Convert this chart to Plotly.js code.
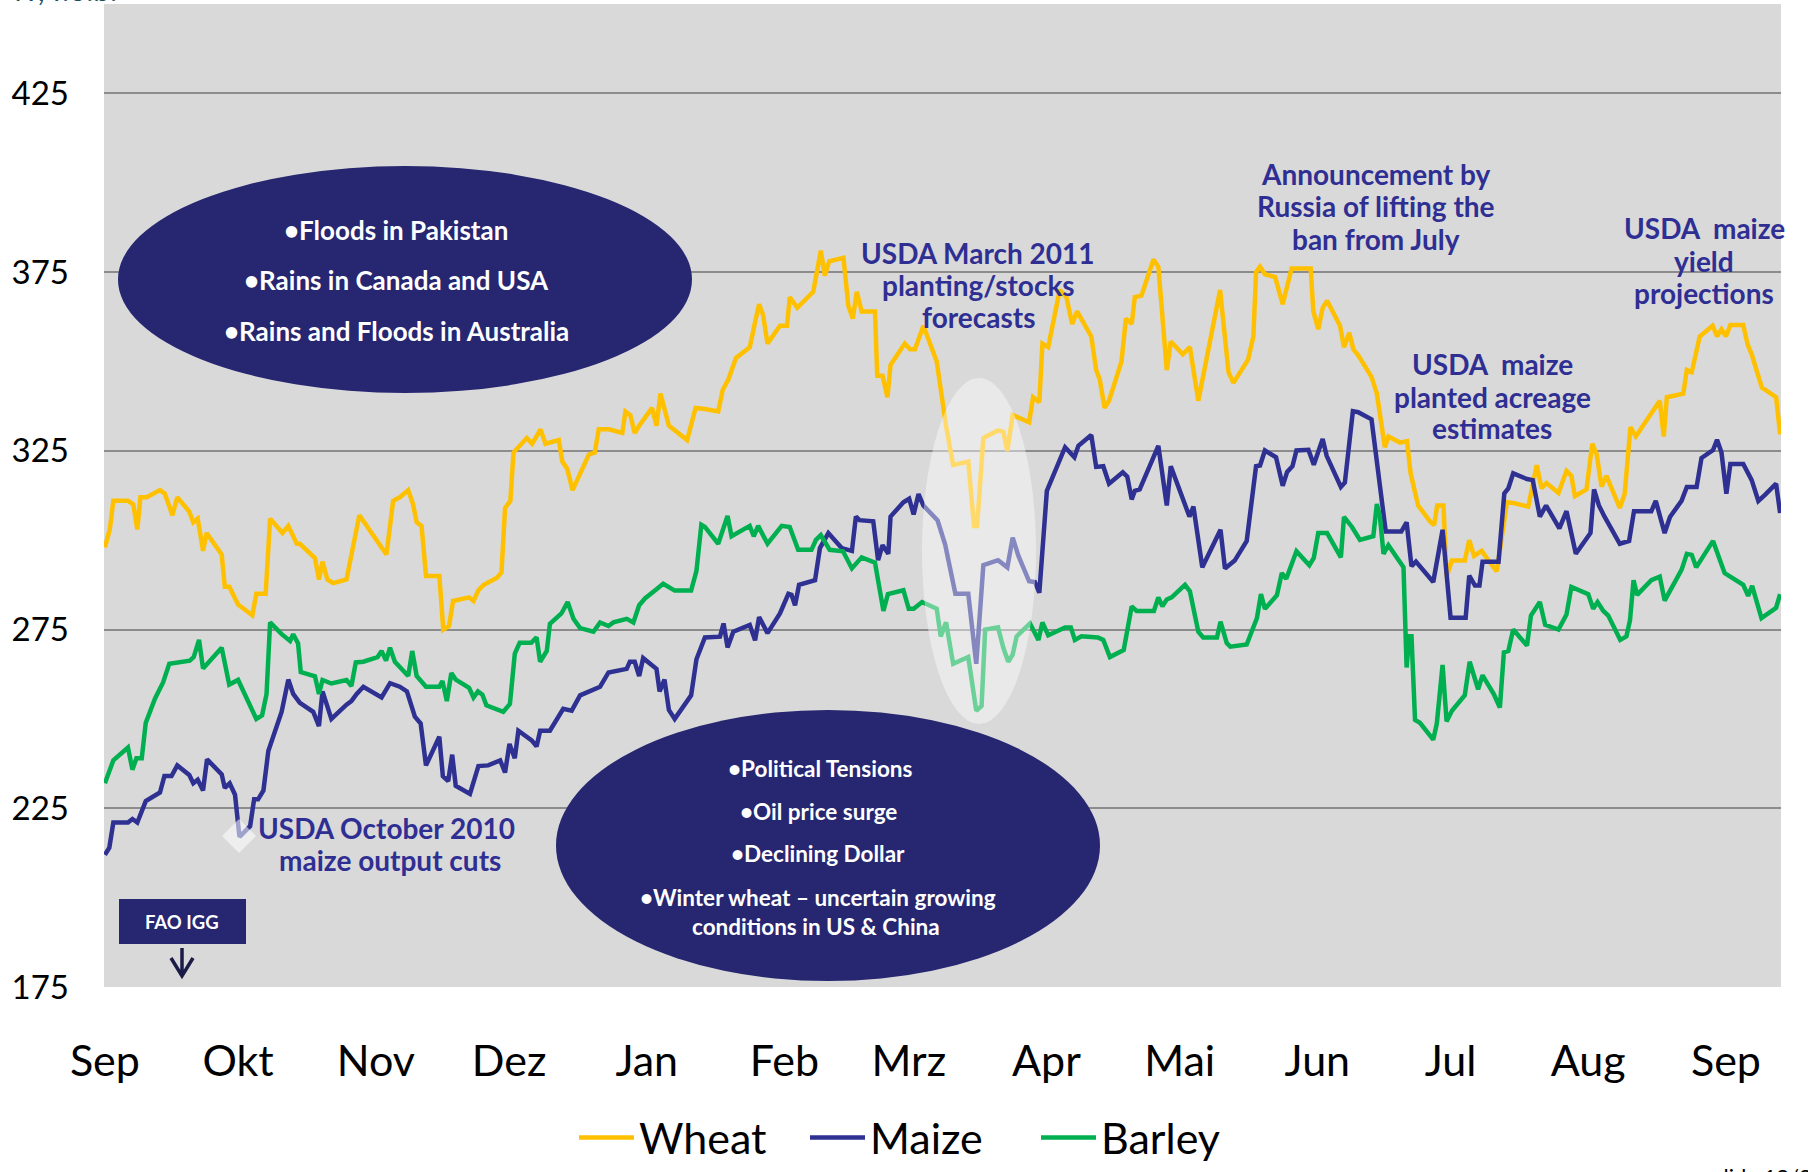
<!DOCTYPE html>
<html><head><meta charset="utf-8">
<script src="https://cdn.plot.ly/plotly-3.0.1.min.js"></script>
<style>html,body{margin:0;padding:0;background:#fff;overflow:hidden}#chart{width:1808px;height:1172px}</style>
</head><body><div id="chart"></div>
<script>
// x = days since 1 Sep 2010
const monthDays = [0,30,61,91,122,153,181,212,242,273,303,334,365];
const monthLabels = ['Sep','Okt','Nov','Dez','Jan','Feb','Mrz','Apr','Mai','Jun','Jul','Aug','Sep'];
const yTicks = [175,225,275,325,375,425];
const seriesNames = ['Wheat','Maize','Barley'];

const wheatSeries = [[0,298],[1.1,303],[1.9,311],[5.2,311],[6.4,310],[7.3,303],[8,312],[9.4,312],[12.4,314],[13.5,313],[15.2,307],[16.3,312],[19,308],[19.9,305],[20.9,306],[22.1,297],[22.9,302],[26.3,296],[27,287],[28,287],[30,282],[33.2,279],[34.1,285],[36.2,285],[37.2,306],[40,302],[41.3,304],[43.2,299],[43.9,299],[47.3,295],[48.2,289],[49,294],[50.1,289],[51.4,288],[54.4,289],[57.3,307],[63.4,296],[64.9,311],[66.4,312],[68.3,314],[69.4,310],[70.2,305],[71.3,304],[72.3,290],[75.3,290],[76.2,275],[77.5,276],[78.4,283],[82,284],[83,283],[84.1,286],[85.3,287.5],[88.3,289.5],[89.3,291],[90.1,309],[91.3,311],[92,324.5],[95,328.6],[96.2,327],[98.1,331],[99.2,327],[102.2,328],[103,322],[104.1,320],[105.3,314],[106.4,317],[109,324],[110.3,324.5],[111.2,331],[113.5,331],[116.5,330],[117.2,336],[118.3,335],[119.3,330],[120.3,332],[123.2,337],[124.2,332],[125.1,341],[127,332],[131.1,328],[133,337],[135.1,336.7],[138.1,336],[139.1,342],[140.4,345],[142.1,351],[145.2,354],[146.4,361],[147.3,366],[148.2,363],[149.2,355],[152,360],[153.6,360],[154.2,368],[155.9,365],[159.5,369.5],[161.2,381],[162.1,374],[163.1,378],[166.3,379],[167.4,365.6],[168.4,362],[169.3,369.5],[170.4,364],[173.4,364],[173.9,346],[175.1,346],[176.2,340],[176.9,349],[180.1,355],[181.3,353.4],[182.4,353.4],[184.3,360],[187.3,350],[189.4,332],[191,321],[194.4,322],[195.7,304],[196.4,304],[197.8,328.6],[201.1,330.7],[202.3,330.3],[203.2,325],[204.4,335],[208.1,333],[209,340],[210.4,338.6],[211.1,355],[212.4,354],[215,370],[216.5,368],[217.8,360.5],[218.9,364],[222.1,357],[223.2,347.6],[224,345],[225.1,337],[226.1,339],[228.9,350],[229.9,362],[231.2,360.5],[231.9,368],[233.4,368.4],[236.1,378.5],[237.2,376.5],[239.1,347.6],[240,355.6],[242.7,352],[244.3,354],[246.2,339],[247.3,346],[249.6,360],[251.1,370],[253,347],[254.1,344],[257.4,350.5],[258.6,357],[259.2,375],[260.1,376.5],[261.2,374.4],[263.5,373.6],[265.2,366],[267.2,376],[271.5,376],[272.1,364],[273.2,359],[274.2,365],[275.2,367],[278.1,360],[279,354],[280.2,358],[281.1,353.4],[282.2,351.7],[285.2,345.7],[286.4,341],[288.2,326],[289,329],[291.6,327.3],[293.2,327.7],[294,318.7],[295.7,309.7],[298.4,305.2],[299.3,304.2],[300,309.7],[301.4,309.7],[302.1,289.8],[303.3,294.3],[306.2,294.3],[307.2,300],[308.3,295.6],[310,297],[311.9,293.7],[313.4,291.3],[315.7,310.6],[317.1,310.4],[320.5,309.4],[322.4,321],[323.5,314.5],[324.6,316],[327.3,313.2],[329.1,319.4],[330.2,318],[331,312.3],[333.6,314.2],[334.9,327],[335.9,324],[337,315],[338.1,318],[341.1,309],[342.2,313],[343.5,331.6],[344.7,329],[350.1,339],[351,329],[351.7,340],[355.4,341],[356.2,347.6],[357.3,347],[359.1,357],[362,360],[363,357],[364,359],[365,357],[366,360.2],[368.9,360.2],[369.9,354.7],[370.8,352],[373.1,342.7],[376.3,340],[377.2,329.6]];

const maizeSeries = [[0,212],[1,214],[1.9,221],[5.2,221],[6.2,222],[7.3,221],[9.2,227],[12.4,229.4],[13.4,234],[15,234],[16.3,237],[19,234.3],[19.9,232],[20.9,233],[22.1,230],[23,238.7],[26.3,234.5],[27,230.7],[28.1,232],[29.3,228.8],[30.3,217],[32.7,220],[33.6,227.5],[34.5,227.5],[35.7,230],[36.8,241],[39.8,252],[41.3,261],[42.4,257],[43.9,254.5],[46.9,252],[48.2,248],[49,257.7],[51,250],[54.4,254],[55.5,255],[56.7,257],[58.2,259],[62.3,256],[64.2,260],[66.4,259],[68,257.7],[69.8,250.6],[71.1,248.7],[72.3,237],[75.3,245],[76.1,234],[77.3,232.6],[78.2,240],[79,231.3],[82.2,229],[84.1,236.8],[86.3,237],[89,238.4],[90.1,235],[91.1,243],[92.3,239],[93.1,246.7],[96.1,244],[97.2,242.3],[98,246.7],[100.2,246.7],[103.2,252.8],[105.1,252.3],[107,256.6],[110,258],[111.5,259],[113.4,263],[117.5,264],[118.2,266],[119.3,266],[120.3,262],[121.2,267],[124.2,264],[124.9,257.7],[126,261],[127,252.5],[128.3,250],[132,256.6],[133.2,266.7],[135.1,272.8],[138.5,273],[139.3,276.7],[140.2,270],[141.5,274.4],[145.2,276.3],[146.4,272],[147.3,278.5],[149.2,274],[152,279.5],[153.9,285],[154.6,284.7],[155.4,281.8],[156.3,287.5],[159.9,288.8],[161,297.8],[162.9,302],[165.9,297.8],[168.2,297],[169.1,306.6],[169.9,305.6],[173,305.3],[174.1,294.4],[175.1,298.6],[176.4,296.2],[176.9,306.6],[179.8,310.6],[181.1,311.6],[182.1,307.2],[183.2,312.9],[184.3,309.7],[187.5,305.5],[189.2,298.8],[191.5,285],[194.4,285],[196.2,265.4],[197.8,293],[201.1,294.4],[203.2,292.4],[204.4,300.7],[205.7,295.6],[208.1,288.5],[209.4,288.3],[210.4,285.3],[212.1,313.8],[216.2,326],[218.3,323.2],[219.2,326.4],[222.1,329.4],[223.2,320.5],[224.8,320.7],[226.1,315.8],[229.2,319],[230.2,317.8],[231.2,311.4],[231.9,313.8],[233,314.2],[237.2,326.4],[239.1,309.7],[240,320.7],[243.2,310.4],[244.2,306.6],[245.1,309.4],[247.1,292.4],[251.2,302.9],[252.2,292.1],[254.4,294.3],[257.1,299.8],[259.2,320.7],[260.1,320.9],[261.2,325.1],[263.7,323.2],[265.2,315.2],[266.2,319.1],[267.4,320.7],[268.3,325.1],[271,325.3],[272.2,321.1],[274.2,328.3],[275.1,323.6],[278.3,314.9],[279.2,316.1],[281,336.1],[282.2,335.8],[285.2,333.8],[286.7,319.4],[288.4,302.4],[291.9,302.4],[293.1,305],[294.2,292.7],[295.2,294],[299.1,288.3],[301.2,302.9],[303,278.3],[306.4,278.3],[307.2,290.1],[308.5,287.3],[309.5,287.3],[310.2,294],[313.8,294],[315.1,313.1],[316,314.5],[317.1,318.7],[320.2,317.1],[321.5,316.8],[323.1,306.6],[324.5,309.7],[327.5,303.3],[329.1,308.1],[331.2,296.2],[334.5,302],[335.3,314.2],[336.4,309.7],[337.7,306.5],[341.1,299],[343.2,299.8],[344.3,308.1],[348.2,308.1],[349.2,311],[351.2,302],[352.4,306.5],[355,311],[356.2,314.9],[358.4,314.9],[359.5,323],[362.1,325.2],[363,328.1],[364,324.5],[365.1,313],[366,321.3],[368.9,321.3],[370.8,316.8],[372.3,311],[373.8,312.7],[376.3,315.8],[377.2,307.6]];

const barleySeries = [[0,232],[1.9,238.4],[5.2,242],[6.2,235.8],[7.1,239],[8.3,239],[9.2,248.9],[11.3,255.7],[13.1,260.2],[14.5,265.4],[19.1,266.3],[20,267.3],[21.2,272.1],[22.1,264.1],[26.3,269.9],[28,259.6],[30,260.9],[34.1,250],[35.4,251],[36.4,257],[37.2,277],[39.8,273.7],[41.7,271.8],[42.4,273.7],[43.5,271.1],[44.1,263.1],[47.3,261.9],[48.2,257],[49,260.9],[51,259.9],[54.4,260.9],[55.5,259.2],[56.5,265.8],[58.2,266],[61.4,267.3],[62.3,269],[63.3,266.3],[64.2,269.9],[65.3,266],[68.3,262],[69.2,269],[70.2,262],[72.3,259],[75.3,259],[76,260.6],[77,255],[78,262.8],[79,261],[82,258.7],[83,256],[84,257.7],[85,256.8],[85.9,253.8],[89.7,252],[91.2,254.2],[92.3,268.3],[93.4,271.3],[96,271.3],[97.2,272.8],[98,266],[99.5,269],[100.2,276.6],[102.8,279.5],[104.2,282.7],[105.5,278],[107,275.4],[110,274.4],[111.5,277],[113.4,276],[114.5,277],[117.5,278],[119,277],[120.3,281.8],[121.6,283.7],[124.2,286.3],[125.7,287.8],[128.3,285.9],[132,285.9],[133.2,291.4],[134.3,304.3],[135.1,303.7],[138.1,299],[140.2,306.8],[141.1,301.1],[145.2,304],[146.1,301.1],[147.1,304],[149.2,299],[152.4,304],[154.2,303.7],[156.1,297.3],[159.1,297.3],[160.1,300.1],[161.2,301.4],[163.2,297.3],[166.2,296.9],[168.2,292.1],[170.4,295.2],[173.4,293.7],[175.3,280.2],[176.3,284.9],[179.8,286],[181,280.8],[182.1,280.8],[184,282.7],[187.3,280.8],[188.2,273.1],[189.4,277],[191,265.4],[194.4,267.3],[196.2,252.3],[197.4,253.6],[198.2,275],[201.1,275.6],[202.3,269.9],[203.4,266],[204.4,268],[205.3,273.1],[208.3,276.7],[210.2,272.1],[211.1,277],[212.4,273.4],[216.2,275.6],[217.5,275.6],[218.4,272.1],[219.9,273.1],[223.6,272.8],[224.8,272.1],[226.3,267.3],[229.4,269.3],[231.2,281.5],[232.3,280.2],[236.2,280.2],[237.2,284],[238.1,281.5],[239.1,283.4],[240.2,284],[243.2,287.5],[244.3,285.7],[246.2,274.4],[247.3,272.8],[250.4,272.8],[251.2,277.2],[252.6,271.2],[253.4,270.2],[257.1,270.8],[258.2,274.4],[259.4,278.2],[260.3,284.9],[261.2,280.8],[263.9,284.6],[265,290.8],[266,289.2],[268.3,296.9],[271.2,293],[272.2,295],[273.2,302],[275.2,302],[278.3,295.2],[279,306.5],[280.8,303.7],[282.6,300.1],[285.6,301.1],[286.4,310.1],[287.1,306.5],[287.9,296.2],[289,298.6],[292.4,292.4],[293.1,264.4],[293.7,273.1],[294.2,273.1],[295,249.7],[296.1,248.9],[299.1,244.2],[299.9,248.7],[301.2,265.1],[302.1,249.3],[303.3,252.3],[306.2,256.6],[307.3,266],[309.2,258.3],[310.2,262.2],[312.7,257],[314.1,253.2],[315,268.6],[316,269],[317.1,275],[320.2,270.5],[321.1,278.9],[323.1,282.7],[324.3,276.3],[327.3,275],[329.1,279.2],[330.2,286.9],[334,284.9],[335.1,280.8],[336.1,282.7],[337.4,280.2],[338.5,278.9],[341.2,272.1],[342.6,273.1],[343.4,277.6],[344.2,288.8],[345,284.7],[348.2,288.8],[350.1,289.8],[351.2,283.1],[355,291.7],[356.2,296.2],[357.3,295.9],[358.3,292.4],[362.1,299.8],[364.7,290.8],[368.9,287.5],[370,284.4],[370.9,287.2],[373,278.2],[376.3,281.1],[377.2,284.9]];

const colors = ['#FFC000','#2E3192','#00B050'];
const allSeries = [wheatSeries, maizeSeries, barleySeries];

const traces = allSeries.map((s,i)=>({
  type:'scatter', mode:'lines', name:seriesNames[i],
  x:s.map(p=>p[0]), y:s.map(p=>p[1]),
  line:{color:colors[i], width:4.5, shape:'linear'},
  hoverinfo:'skip'
}));

// page-pixel helpers for decorative annotations
const L=104, T=4, W=1677, H=983;
const px = x => (x-L)/W;
const py = y => (T+H-y)/H;

const navy = '#262671';
const txt = '#2F2F93';
const shapes = [
  {type:'circle', xref:'paper', yref:'paper', x0:px(118), x1:px(692), y0:py(393), y1:py(166), fillcolor:navy, line:{width:0}, layer:'above'},
  {type:'circle', xref:'paper', yref:'paper', x0:px(556), x1:px(1100), y0:py(981), y1:py(710), fillcolor:navy, line:{width:0}, layer:'above'},
  {type:'circle', xref:'paper', yref:'paper', x0:px(922), x1:px(1036), y0:py(724), y1:py(378), fillcolor:'rgba(255,255,255,0.42)', line:{width:0}, layer:'above'},
  {type:'path', xref:'paper', yref:'paper', path:`M${px(222)},${py(836)} L${px(239)},${py(819)} L${px(256)},${py(836)} L${px(239)},${py(853)} Z`, fillcolor:'rgba(255,255,255,0.55)', line:{width:0}, layer:'above'},
  {type:'rect', xref:'paper', yref:'paper', x0:px(119), x1:px(246), y0:py(944), y1:py(899), fillcolor:navy, line:{width:0}, layer:'above'},
  {type:'path', xref:'paper', yref:'paper', path:`M${px(182)},${py(948)} L${px(182)},${py(975)} M${px(171)},${py(958)} L${px(182)},${py(976)} L${px(193)},${py(958)}`, line:{color:'#1b1b48', width:3.5}, layer:'above'}
];

function ann(text, x, y, size, color, opts){
  return Object.assign({text:text, xref:'paper', yref:'paper', x:px(x), y:py(y), xanchor:'center', yanchor:'middle', showarrow:false, font:{family:'Lato, sans-serif', size:size, color:color, weight:700}}, opts||{});
}
const annotations = [
  ann('•Floods in Pakistan', 396, 230, 26, '#fff'),
  ann('•Rains in Canada and USA', 396, 280, 26, '#fff'),
  ann('•Rains and Floods in Australia', 396, 331, 26, '#fff'),
  ann('•Political Tensions', 820, 768, 22.5, '#fff'),
  ann('•Oil price surge', 818, 811, 22.5, '#fff'),
  ann('•Declining Dollar', 818, 853, 22.5, '#fff'),
  ann('•Winter wheat – uncertain growing', 818, 897, 22.5, '#fff'),
  ann('conditions in US & China', 816, 926, 22.5, '#fff'),
  ann('FAO IGG', 182, 922, 18.5, '#fff'),
  ann('USDA October 2010', 386, 828, 28, txt),
  ann('maize output cuts', 390, 860, 28, txt),
  ann('USDA March 2011', 978, 253, 28, txt),
  ann('planting/stocks', 978, 285, 28, txt),
  ann('forecasts', 978, 317, 28, txt),
  ann('Announcement by', 1376, 174, 28, txt),
  ann('Russia of lifting the', 1376, 206, 28, txt),
  ann('ban from July', 1376, 239, 28, txt),
  ann('USDA  maize', 1492, 364, 28, txt),
  ann('planted acreage', 1492, 397, 28, txt),
  ann('estimates', 1492, 428, 28, txt),
  ann('USDA  maize', 1704, 228, 28, txt),
  ann('yield', 1704, 261, 28, txt),
  ann('projections', 1704, 293, 28, txt),
  ann('US$/MT, f.o.b.', 119, -11, 30, '#1d4f5c', {xanchor:'right', font:{family:'Lato, sans-serif', size:30, color:'#1d4f5c'}}),
  ann('slide 12/20', 1712, 1176, 22, '#000', {xanchor:'left', font:{family:'Lato, sans-serif', size:22, color:'#000'}})
];

const layout = {
  width:1808, height:1172,
  margin:{l:L, r:1808-L-W, t:T, b:1172-T-H, pad:0, autoexpand:false},
  paper_bgcolor:'#ffffff', plot_bgcolor:'#D9D9D9',
  font:{family:'Lato, sans-serif', color:'#000'},
  showlegend:true,
  legend:{orientation:'h', xref:'container', yref:'container', x:574/1808, xanchor:'left', y:-0.005, yanchor:'bottom',
    font:{family:'Lato, sans-serif', size:43, color:'#000'}, bgcolor:'rgba(0,0,0,0)', itemwidth:55,
    entrywidthmode:'pixels', entrywidth:161, tracegroupgap:0, borderwidth:0},
  xaxis:{range:[-0.2,377.4], tickmode:'array', tickvals:monthDays, ticktext:monthLabels, automargin:false,
    showgrid:false, zeroline:false, showline:false, ticks:'', ticklabelstandoff:45,
    tickfont:{family:'Lato, sans-serif', size:43, color:'#000'}, fixedrange:true},
  yaxis:{range:[175,450], tickmode:'array', tickvals:yTicks, showgrid:true, gridcolor:'#8c8c8c', gridwidth:2, automargin:false,
    zeroline:false, showline:false, ticks:'', ticklabelstandoff:34,
    tickfont:{family:'Lato, sans-serif', size:33, color:'#000'}, fixedrange:true},
  shapes:shapes, annotations:annotations
};

Plotly.newPlot('chart', traces, layout, {staticPlot:true, displayModeBar:false});
</script>
</body></html>
